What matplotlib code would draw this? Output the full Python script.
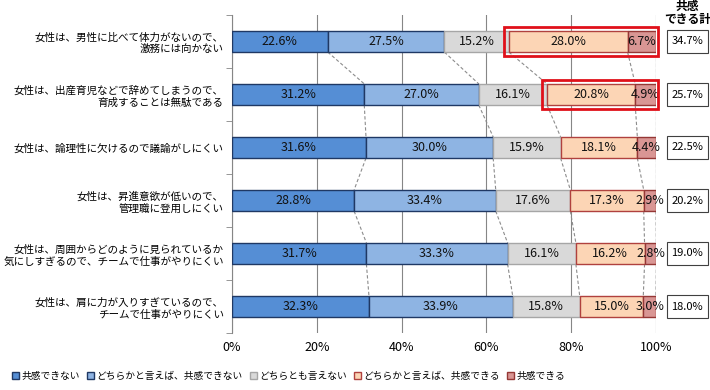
import numpy as np
import matplotlib
matplotlib.use("Agg")
import matplotlib.pyplot as plt
from matplotlib.patches import Rectangle, Patch

plt.rcParams['font.family'] = ['Noto Sans CJK JP', 'DejaVu Sans']

# Data
categories = [
    "女性は、男性に比べて体力がないので、\n激務には向かない",
    "女性は、出産育児などで辞めてしまうので、\n育成することは無駄である",
    "女性は、論理性に欠けるので議論がしにくい",
    "女性は、昇進意欲が低いので、\n管理職に登用しにくい",
    "女性は、周囲からどのように見られているか\n気にしすぎるので、チームで仕事がやりにくい",
    "女性は、肩に力が入りすぎているので、\nチームで仕事がやりにくい",
]
series_names = ["共感できない", "どちらかと言えば、共感できない", "どちらとも言えない",
                "どちらかと言えば、共感できる", "共感できる"]
not_agree = [22.6, 31.2, 31.6, 28.8, 31.7, 32.3]
rather_not = [27.5, 27.0, 30.0, 33.4, 33.3, 33.9]
neutral = [15.2, 16.1, 15.9, 17.6, 16.1, 15.8]
rather_agree = [28.0, 20.8, 18.1, 17.3, 16.2, 15.0]
agree = [6.7, 4.9, 4.4, 2.9, 2.8, 3.0]
agree_total = ["34.7%", "25.7%", "22.5%", "20.2%", "19.0%", "18.0%"]
highlight_rows = [0, 1]

face_colors = ["#558ED5", "#8EB4E3", "#D9D9D9", "#FCD5B5", "#D99694"]
edge_colors = ["#1F3864", "#1F3864", "#A6A6A6", "#B0413E", "#953735"]

values = np.array([not_agree, rather_not, neutral, rather_agree, agree])
y = np.arange(len(categories))
bar_h = 0.4

fig = plt.figure(figsize=(7.1, 3.9), dpi=100)
ax = fig.add_axes([232 / 710, 1 - 333 / 390, 424 / 710, 318 / 390])

left = np.zeros(len(categories))
for i in range(len(series_names)):
    ax.barh(y, values[i], left=left, height=bar_h, color=face_colors[i],
            edgecolor=edge_colors[i], linewidth=1, zorder=3)
    for r in range(len(categories)):
        ax.text(left[r] + values[i][r] / 2, y[r], f"{values[i][r]:.1f}%",
                ha="center", va="center", fontsize=9, color="#111111", zorder=5)
    left += values[i]

# connector lines between bars
cum = np.cumsum(values, axis=0)
for k in range(cum.shape[0]):
    for r in range(len(categories) - 1):
        ax.plot([cum[k][r], cum[k][r + 1]], [y[r] + bar_h / 2, y[r + 1] - bar_h / 2],
                color="#8C8C8C", linestyle=(0, (3, 2)), linewidth=0.8, zorder=2)

# red highlight boxes
for r in highlight_rows:
    x0 = cum[2][r] - 1.2
    ax.add_patch(Rectangle((x0, y[r] - 0.28), 100.5 - x0, 0.56, fill=False,
                           edgecolor="#E0101A", linewidth=2, zorder=6, clip_on=False))

# right column totals
for r in range(len(categories)):
    ax.add_patch(Rectangle((102.6, y[r] - 0.21), 9.7, 0.42, facecolor="white",
                           edgecolor="#404040", linewidth=0.8, clip_on=False))
    ax.text(107.4, y[r], agree_total[r], ha="center", va="center", fontsize=8,
            clip_on=False)
ax.text(107.4, -0.535, "共感\nできる計", ha="center", va="center", fontsize=8.5,
        fontweight="bold", linespacing=0.95, clip_on=False)

ax.set_xlim(0, 100)
ax.set_ylim(len(categories) - 0.5, -0.5)
ax.set_xticks(np.arange(0, 101, 20))
ax.set_xticklabels([f"{t}%" for t in range(0, 101, 20)], fontsize=9)
ax.tick_params(axis="x", length=0, pad=6)
ax.set_yticks(y)
ax.set_yticklabels(categories, fontsize=7.6, linespacing=1.25)
ax.tick_params(axis="y", which="major", length=0, pad=6)
ax.set_yticks(np.arange(-0.5, len(categories)), minor=True)
ax.tick_params(axis="y", which="minor", length=4, color="#868686")
ax.grid(axis="x", color="#868686", linewidth=0.8, zorder=0)
for s in ["top", "right", "bottom"]:
    ax.spines[s].set_visible(False)
ax.spines["left"].set_color("#868686")

handles = [Patch(facecolor=face_colors[i], edgecolor=edge_colors[i], label=series_names[i])
           for i in range(len(series_names))]
fig.legend(handles=handles, loc="lower left", bbox_to_anchor=(0.005, 0.0), ncol=5,
           frameon=False, fontsize=7, handlelength=0.7, handleheight=0.7,
           handletextpad=0.2, columnspacing=0.8)

fig.savefig("out.png", dpi=100)
